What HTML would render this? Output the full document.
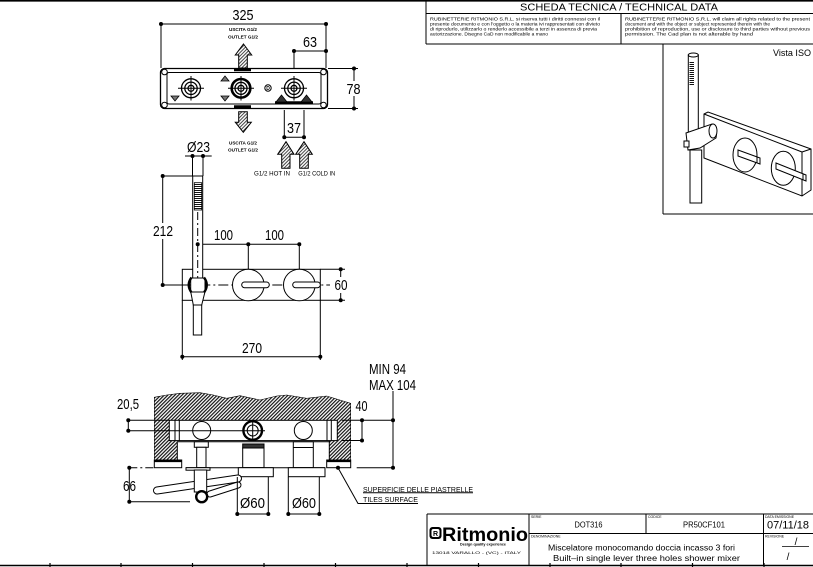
<!DOCTYPE html>
<html><head><meta charset="utf-8"><style>
html,body{margin:0;padding:0;background:#fff;}
svg{display:block;}
text{font-family:"Liberation Sans Narrow","Liberation Sans",sans-serif;fill:#000;}
.s{font-family:"Liberation Sans",sans-serif;}
</style></head><body>
<svg width="813" height="567" viewBox="0 0 813 567" xmlns="http://www.w3.org/2000/svg">
<defs>
<pattern id="hw" width="2.5" height="2.5" patternUnits="userSpaceOnUse" patternTransform="rotate(45)">
<rect width="2.5" height="2.5" fill="#fff"/><rect width="1.2" height="2.5" fill="#111"/></pattern>
<pattern id="ha" width="2.4" height="2.4" patternUnits="userSpaceOnUse" patternTransform="rotate(45)">
<rect width="2.4" height="2.4" fill="#fff"/><rect width="1" height="2.4" fill="#444"/></pattern>
<pattern id="hg" width="2" height="2" patternUnits="userSpaceOnUse">
<rect width="2" height="2" fill="#fff"/><rect width="2" height="1" fill="#111"/></pattern>
</defs>

<!-- ===== FRAME ===== -->
<g stroke="#000" fill="none">
<line x1="0" y1="0.8" x2="813" y2="0.8" stroke-width="1.6"/>
<line x1="426" y1="0" x2="426" y2="44" stroke-width="1"/>
<line x1="426" y1="13.5" x2="813" y2="13.5" stroke-width="1"/>
<line x1="426" y1="44" x2="813" y2="44" stroke-width="1"/>
<line x1="621" y1="13.5" x2="621" y2="44" stroke-width="1"/>
<line x1="663" y1="44" x2="663" y2="214" stroke-width="1"/>
<line x1="663" y1="214" x2="813" y2="214" stroke-width="1"/>
<!-- bottom frame -->
<line x1="0" y1="565.5" x2="813" y2="565.5" stroke-width="1.4"/>
<g stroke-width="1.2">
<line x1="50" y1="563" x2="50" y2="567"/><line x1="121" y1="563" x2="121" y2="567"/>
<line x1="192.5" y1="563" x2="192.5" y2="567"/><line x1="264" y1="563" x2="264" y2="567"/>
<line x1="335.5" y1="563" x2="335.5" y2="567"/><line x1="407" y1="563" x2="407" y2="567"/>
<line x1="478.5" y1="563" x2="478.5" y2="567"/><line x1="550" y1="563" x2="550" y2="567"/>
<line x1="621" y1="563" x2="621" y2="567"/><line x1="692.5" y1="563" x2="692.5" y2="567"/>
<line x1="764" y1="563" x2="764" y2="567"/>
</g>
<!-- bottom title block -->
<line x1="427" y1="514" x2="813" y2="514" stroke-width="1"/>
<line x1="427" y1="514" x2="427" y2="565" stroke-width="1"/>
<line x1="529" y1="514" x2="529" y2="565" stroke-width="1"/>
<line x1="646" y1="514" x2="646" y2="533.5" stroke-width="1"/>
<line x1="763.5" y1="514" x2="763.5" y2="565" stroke-width="1"/>
<line x1="529" y1="533.5" x2="813" y2="533.5" stroke-width="1"/>
<line x1="782" y1="546.5" x2="809" y2="546.5" stroke-width="0.8"/>
</g>

<!-- top title text -->
<text class="s" x="619" y="10.5" font-size="10" text-anchor="middle" textLength="198" lengthAdjust="spacingAndGlyphs">SCHEDA TECNICA / TECHNICAL DATA</text>
<g class="s" font-size="4.7">
<text class="s" x="430" y="20.5" textLength="170" lengthAdjust="spacingAndGlyphs">RUBINETTERIE RITMONIO S.R.L. si riserva tutti i diritti connessi con il</text>
<text class="s" x="430" y="25.5" textLength="170" lengthAdjust="spacingAndGlyphs">presente documento e con l'oggetto o la materia ivi rappresentati con divieto</text>
<text class="s" x="430" y="30.5" textLength="167" lengthAdjust="spacingAndGlyphs">di riprodurlo, utilizzarlo o renderlo accessibile a terzi in assenza di previa</text>
<text class="s" x="430" y="35.5" textLength="118" lengthAdjust="spacingAndGlyphs">autorizzazione. Disegno CaD non modificabile a mano</text>
<text class="s" x="625" y="20.5" textLength="185" lengthAdjust="spacingAndGlyphs">RUBINETTERIE RITMONIO S.R.L. will claim all rights related to the present</text>
<text class="s" x="625" y="25.5" textLength="145" lengthAdjust="spacingAndGlyphs">document and with the object or subject represented therein with the</text>
<text class="s" x="625" y="30.5" textLength="185" lengthAdjust="spacingAndGlyphs">prohibition  of reproduction, use or disclosure to third parties without previous</text>
<text class="s" x="625" y="35.5" textLength="128" lengthAdjust="spacingAndGlyphs">permission.  The Cad plan is not alterable by hand</text>
</g>

<!-- ===== TOP VIEW ===== -->
<g stroke="#000" stroke-width="1" fill="none">
<line x1="161" y1="24" x2="326" y2="24"/>
<line x1="161" y1="24" x2="161" y2="68"/>
<line x1="326" y1="24" x2="326" y2="68"/>
<line x1="294" y1="51" x2="326" y2="51"/>
<line x1="294" y1="51" x2="294" y2="68"/>
<line x1="328" y1="68.5" x2="358" y2="68.5"/>
<line x1="328" y1="108.5" x2="358" y2="108.5"/>
<line x1="354" y1="68.5" x2="354" y2="108.5"/>
<rect x="160.5" y="68.5" width="167" height="40" rx="4" stroke-width="1.3"/>
<rect x="167" y="72.5" width="154" height="31.5" rx="2"/>
<circle cx="164.5" cy="72" r="2.8"/><circle cx="323.5" cy="72" r="2.8"/>
<circle cx="164.5" cy="105" r="2.8"/><circle cx="323.5" cy="105" r="2.8"/>
<!-- valves -->
<g stroke-width="1.3">
<circle cx="191" cy="88.3" r="9.5"/><circle cx="191" cy="88.3" r="6.2"/><circle cx="191" cy="88.3" r="3"/>
<circle cx="241" cy="88.3" r="9.3" stroke-width="2.6"/><circle cx="241" cy="88.3" r="6"/><circle cx="241" cy="88.3" r="3"/>
<circle cx="294" cy="88.3" r="9.5"/><circle cx="294" cy="88.3" r="6.2"/><circle cx="294" cy="88.3" r="3"/>
</g>
<line x1="178" y1="88.3" x2="204" y2="88.3"/><line x1="191" y1="76" x2="191" y2="100.5"/>
<line x1="228" y1="88.3" x2="254" y2="88.3"/><line x1="241" y1="76" x2="241" y2="100.5"/>
<line x1="281" y1="88.3" x2="307" y2="88.3"/><line x1="294" y1="76" x2="294" y2="100.5"/>
<circle cx="268" cy="88" r="3.2"/>
<line x1="234" y1="69.8" x2="251" y2="69.8" stroke-width="3"/>
<line x1="234" y1="106.8" x2="251" y2="106.8" stroke-width="3"/>
<line x1="275" y1="102.5" x2="313" y2="102.5" stroke-width="2.5"/>
</g>
<g stroke="#000" stroke-width="0.8">
<polygon points="171,96 179,96 175,101" fill="#777"/>
<polygon points="221,81 229,81 225,76" fill="#777"/>
<polygon points="221,96 229,96 225,101" fill="#777"/>
<polygon points="276,102 287,102 281.5,95" fill="#333"/>
<polygon points="301,102 312,102 306.5,95" fill="#333"/>
</g>
<text class="s" x="268" y="90" font-size="5" text-anchor="middle" font-weight="bold">D</text>
<!-- arrows -->
<g stroke="#000" stroke-width="1" fill="url(#ha)">
<polygon points="243.5,44 251.7,55 247.3,55 247.3,68 238.7,68 238.7,55 235.3,55"/>
<polygon points="238.7,111.7 247.3,111.7 247.3,122.3 251.3,122.3 243.3,132.3 235.3,122.3 238.7,122.3"/>
<polygon points="286,141.7 294,154.3 290,154.3 290,168.3 281.7,168.3 281.7,154.3 277.7,154.3"/>
<polygon points="304,141.7 312.3,154.3 308.3,154.3 308.3,168.3 299.7,168.3 299.7,154.3 295.7,154.3"/>
</g>
<g stroke="#000" stroke-width="1" fill="none">
<line x1="284.3" y1="110" x2="284.3" y2="137.3"/>
<line x1="304" y1="110" x2="304" y2="137.3"/>
<line x1="284.3" y1="137.3" x2="304" y2="137.3"/>
<!-- O23 -->
<line x1="185" y1="156" x2="211.7" y2="156"/>
<line x1="192.5" y1="156" x2="192.5" y2="176"/>
<line x1="203" y1="156" x2="203" y2="176"/>
</g>
<g fill="#000">
<circle cx="161" cy="24" r="2"/><circle cx="326" cy="24" r="2"/>
<circle cx="294" cy="51" r="2"/><circle cx="326" cy="51" r="2"/>
<circle cx="354" cy="68.5" r="2"/><circle cx="354" cy="108.5" r="2"/>
<circle cx="284.3" cy="137.3" r="2"/><circle cx="304" cy="137.3" r="2"/>
<circle cx="192.5" cy="156" r="2"/><circle cx="203" cy="156" r="2"/>
</g>
<rect x="346" y="81" width="16" height="15" fill="#fff"/>
<g font-size="15" text-anchor="middle">
<text x="243" y="20" textLength="21" lengthAdjust="spacingAndGlyphs">325</text>
<text x="310" y="47" textLength="14" lengthAdjust="spacingAndGlyphs">63</text>
<text x="353.5" y="94" textLength="14" lengthAdjust="spacingAndGlyphs">78</text>
<text x="294" y="133" textLength="14" lengthAdjust="spacingAndGlyphs">37</text>
<text x="198.5" y="152" textLength="23" lengthAdjust="spacingAndGlyphs">Ø23</text>
</g>
<g class="s" font-size="4.8" font-weight="bold" text-anchor="middle">
<text class="s" x="243" y="31" textLength="28" lengthAdjust="spacingAndGlyphs">USCITA G1/2</text>
<text class="s" x="243" y="38.3" textLength="30" lengthAdjust="spacingAndGlyphs">OUTLET G1/2</text>
<text class="s" x="243" y="144.5" textLength="28" lengthAdjust="spacingAndGlyphs">USCITA G1/2</text>
<text class="s" x="243" y="151.7" textLength="30" lengthAdjust="spacingAndGlyphs">OUTLET G1/2</text>
</g>
<g class="s" font-size="6" text-anchor="middle">
<text class="s" x="272" y="175.5" textLength="36" lengthAdjust="spacingAndGlyphs">G1/2 HOT IN</text>
<text class="s" x="316.7" y="175.5" textLength="37" lengthAdjust="spacingAndGlyphs">G1/2 COLD IN</text>
</g>

<!-- ===== FRONT VIEW ===== -->
<g stroke="#000" stroke-width="1" fill="none">
<line x1="162.7" y1="176" x2="192.7" y2="176"/>
<line x1="162.7" y1="176" x2="162.7" y2="285"/>
<line x1="162.7" y1="285" x2="182" y2="285"/>
<line x1="197.7" y1="244.3" x2="299.3" y2="244.3"/>
<line x1="248.3" y1="244.3" x2="248.3" y2="270"/>
<line x1="299.3" y1="244.3" x2="299.3" y2="270"/>
<rect x="182.3" y="269.3" width="138" height="31"/>
<line x1="182.3" y1="285" x2="330" y2="285" stroke-dasharray="10 3 2 3"/>
<circle cx="248.3" cy="285" r="15.8" fill="#fff"/>
<circle cx="299.3" cy="285" r="15.8" fill="#fff"/>
<rect x="241.7" y="282" width="27.6" height="5.7" rx="2.8" fill="#fff"/>
<rect x="292.7" y="282" width="27.6" height="5.7" rx="2.8" fill="#fff"/>
<rect x="192.7" y="176" width="10" height="102" fill="#fff"/>
<polygon points="190.7,291.7 205,291.7 201.7,305 193.3,305" fill="#fff"/>
<rect x="193.3" y="305" width="8.4" height="30" fill="#fff"/>
<line x1="197.7" y1="212" x2="197.7" y2="278" stroke-dasharray="8 3 2 3"/>
<rect x="190.7" y="278" width="14.3" height="14" fill="#fff"/>
<path d="M191.5,277.5 Q186,285 191.5,292.5" stroke-width="2.4"/>
<path d="M204,277.5 Q209.5,285 204,292.5" stroke-width="2.4"/>
<line x1="320.3" y1="269.3" x2="345" y2="269.3"/>
<line x1="320.3" y1="300.3" x2="345" y2="300.3"/>
<line x1="340.7" y1="269.3" x2="340.7" y2="300.3"/>
<line x1="182.3" y1="300.3" x2="182.3" y2="360"/>
<line x1="320.3" y1="300.3" x2="320.3" y2="360"/>
<line x1="182.3" y1="356.7" x2="320.3" y2="356.7"/>
</g>
<rect x="194.3" y="182.7" width="7.4" height="27.3" fill="url(#hg)" stroke="#000" stroke-width="0.8"/>
<g fill="#000">
<circle cx="162.7" cy="176" r="2"/><circle cx="162.7" cy="285" r="2"/>
<circle cx="197.7" cy="244.3" r="2"/><circle cx="248.3" cy="244.3" r="2"/><circle cx="299.3" cy="244.3" r="2"/>
<circle cx="340.7" cy="269.3" r="2"/><circle cx="340.7" cy="300.3" r="2"/>
<circle cx="182.3" cy="356.7" r="2"/><circle cx="320.3" cy="356.7" r="2"/>
</g>
<rect x="152" y="223" width="22" height="16" fill="#fff"/>
<rect x="333" y="277" width="15.5" height="16" fill="#fff"/>
<g font-size="15" text-anchor="middle">
<text x="163" y="236" textLength="20" lengthAdjust="spacingAndGlyphs">212</text>
<text x="223.5" y="240" textLength="19" lengthAdjust="spacingAndGlyphs">100</text>
<text x="274.5" y="240" textLength="19" lengthAdjust="spacingAndGlyphs">100</text>
<text x="341" y="290" textLength="13" lengthAdjust="spacingAndGlyphs">60</text>
<text x="252" y="353" textLength="20" lengthAdjust="spacingAndGlyphs">270</text>
</g>

<!-- ===== SECTION VIEW ===== -->
<path fill="url(#hw)" fill-rule="evenodd" stroke="none" d="M154.3,397.3 L166.7,395 L180,393.3 L200,392.7 L213.3,395 L226.7,398.3 L240,395.7 L260,400 L276.7,396 L286.7,395 L306.7,398.3 L326.7,396 L350.7,403.3 L350.7,460 L154.3,460 Z M169.3,420 L337.3,420 L337.3,440 L329.3,440 L329.3,460 L177.3,460 L177.3,440 L169.3,440 Z"/>
<g stroke="#000" stroke-width="1" fill="none">
<polyline points="154.3,460 154.3,397.3 166.7,395 180,393.3 200,392.7 213.3,395 226.7,398.3 240,395.7 260,400 276.7,396 286.7,395 306.7,398.3 326.7,396 350.7,403.3 350.7,460" stroke-width="0.6"/>
<polyline points="177.3,460 177.3,440"/>
<polyline points="329.3,460 329.3,440"/>
<rect x="154.3" y="460" width="27.4" height="7.7" fill="#fff"/>
<rect x="326.7" y="460" width="24" height="7.7" fill="#fff"/>
<line x1="154.3" y1="461" x2="181.7" y2="461" stroke-width="2.2"/>
<line x1="326.7" y1="461" x2="350.7" y2="461" stroke-width="2.2"/>
<rect x="169.3" y="420.3" width="168" height="20.3" fill="#fff"/>
<line x1="175" y1="420.3" x2="175" y2="440.6"/><line x1="179.3" y1="420.3" x2="179.3" y2="440.6"/>
<line x1="327" y1="420.3" x2="327" y2="440.6"/><line x1="331.3" y1="420.3" x2="331.3" y2="440.6"/>
<line x1="178" y1="441.8" x2="330" y2="441.8"/>
<circle cx="201.7" cy="430.5" r="9" fill="#fff"/>
<circle cx="252.7" cy="430.5" r="9.3" fill="#fff" stroke-width="2.4"/>
<circle cx="252.7" cy="430.5" r="5.5"/>
<circle cx="303.3" cy="430.5" r="9" fill="#fff"/>
<line x1="128.3" y1="430.7" x2="265" y2="430.7"/>
<line x1="252.7" y1="422" x2="252.7" y2="439"/>
<line x1="128.3" y1="420.3" x2="169.3" y2="420.3"/>
<rect x="194.3" y="441.8" width="14" height="5.5" fill="#fff"/>
<rect x="196.7" y="447.3" width="9.3" height="20.4" fill="#fff"/>
<rect x="242.7" y="444" width="21.3" height="4" fill="#333"/>
<rect x="242.7" y="448" width="21.3" height="19.7" fill="#fff"/>
<rect x="293.3" y="441.8" width="20" height="25.9" fill="#fff"/>
<line x1="293.3" y1="447.5" x2="313.3" y2="447.5"/>
<line x1="186" y1="467.7" x2="325" y2="467.7"/>
<rect x="238.3" y="467.7" width="35" height="9" fill="#fff"/>
<rect x="288.3" y="467.7" width="36.7" height="9" fill="#fff"/>
<rect x="186" y="467.7" width="24" height="2.5" fill="#fff"/>
<path d="M157,490.5 L238,478.5" stroke-width="8" stroke-linecap="round"/>
<path d="M157,490.5 L238,478.5" stroke="#fff" stroke-width="6" stroke-linecap="round"/>
<path d="M210,494 L238,485" stroke-width="7" stroke-linecap="round"/>
<path d="M210,494 L238,485" stroke="#fff" stroke-width="5" stroke-linecap="round"/>
<rect x="194.3" y="470" width="12.4" height="22" fill="#fff"/>
<circle cx="201.7" cy="496.7" r="5.5" fill="#fff" stroke-width="2.4"/>
<line x1="128.3" y1="420.3" x2="128.3" y2="430.7"/>
<line x1="129.3" y1="467.7" x2="155" y2="467.7" stroke-dasharray="8 3 2 3"/>
<line x1="129.3" y1="467.7" x2="129.3" y2="501.7"/>
<line x1="129.3" y1="501.7" x2="190" y2="501.7"/>
<line x1="237.3" y1="477" x2="237.3" y2="514"/><line x1="268.3" y1="477" x2="268.3" y2="514"/>
<line x1="237.3" y1="514" x2="268.3" y2="514"/>
<line x1="288.3" y1="477" x2="288.3" y2="514"/><line x1="319.3" y1="477" x2="319.3" y2="514"/>
<line x1="288.3" y1="514" x2="319.3" y2="514"/>
<line x1="341.7" y1="420.3" x2="393" y2="420.3"/>
<line x1="341.7" y1="440.5" x2="362" y2="440.5"/>
<line x1="356.7" y1="467.7" x2="393" y2="467.7"/>
<line x1="362" y1="420.3" x2="362" y2="440.5"/>
<line x1="393" y1="391" x2="393" y2="467.7"/>
<polyline points="338,467.7 358,503.5 418,503.5"/>
<line x1="363" y1="492.8" x2="473" y2="492.8"/>
</g>
<g fill="#000">
<circle cx="128.3" cy="420.3" r="2"/><circle cx="128.3" cy="430.7" r="2"/>
<circle cx="129.3" cy="467.7" r="2"/><circle cx="129.3" cy="501.7" r="2"/>
<circle cx="237.3" cy="514" r="2"/><circle cx="268.3" cy="514" r="2"/>
<circle cx="288.3" cy="514" r="2"/><circle cx="319.3" cy="514" r="2"/>
<circle cx="362" cy="420.3" r="2"/><circle cx="362" cy="440.5" r="2"/>
<circle cx="393" cy="420.3" r="2"/><circle cx="393" cy="467.7" r="2"/>
<circle cx="338" cy="467.7" r="2"/>
</g>
<g font-size="15">
<text x="369" y="374" textLength="37" lengthAdjust="spacingAndGlyphs">MIN 94</text>
<text x="369" y="390" textLength="47" lengthAdjust="spacingAndGlyphs">MAX 104</text>
<text x="361.5" y="411" text-anchor="middle" textLength="12" lengthAdjust="spacingAndGlyphs">40</text>
<text x="128" y="409" text-anchor="middle" textLength="22" lengthAdjust="spacingAndGlyphs">20,5</text>
<text x="129.5" y="491" text-anchor="middle" textLength="13" lengthAdjust="spacingAndGlyphs">66</text>
<text x="252.5" y="508" text-anchor="middle" textLength="25" lengthAdjust="spacingAndGlyphs">Ø60</text>
<text x="304" y="508" text-anchor="middle" textLength="24" lengthAdjust="spacingAndGlyphs">Ø60</text>
</g>
<g font-size="7.5">
<text x="363" y="491.8" textLength="110" lengthAdjust="spacingAndGlyphs">SUPERFICIE DELLE PIASTRELLE</text>
<text x="363" y="501.8" textLength="55" lengthAdjust="spacingAndGlyphs">TILES SURFACE</text>
</g>

<!-- ===== ISO VIEW ===== -->
<text class="s" x="773" y="56" font-size="9" textLength="38" lengthAdjust="spacingAndGlyphs">Vista ISO</text>
<g stroke="#000" stroke-width="1" fill="none">
<polygon points="704,114 708,112 811,149 811,190 802,196 704,158" fill="#fff"/>
<polyline points="704,114 802,152 802,196"/>
<line x1="802" y1="152" x2="811" y2="149"/>
<ellipse cx="745" cy="155" rx="12" ry="17" fill="#fff"/>
<path d="M738,150 L760,158 L760,164 L738,156 Z" fill="#fff"/>
<line x1="757" y1="157" x2="757" y2="163"/>
<ellipse cx="783.3" cy="168.3" rx="12" ry="17" fill="#fff"/>
<path d="M776,163 L806,175 L806,181 L776,169 Z" fill="#fff"/>
<line x1="803" y1="174" x2="803" y2="180"/>
<rect x="688.3" y="55" width="10" height="84" fill="#fff"/>
<ellipse cx="693.3" cy="55" rx="5" ry="2" fill="#fff"/>
<rect x="690" y="150" width="11.7" height="53" fill="#fff"/>
<path d="M686,133 L712,124 Q718,128 716,138 L700,148 L688,150 Z" fill="#fff"/>
<ellipse cx="713" cy="131" rx="4" ry="7" fill="#fff"/>
<rect x="684" y="141" width="5" height="6" fill="#fff"/>
<line x1="688" y1="150" x2="702" y2="150"/>
</g>
<rect x="689.5" y="62" width="4.5" height="23" fill="url(#hg)"/>

<!-- ===== TITLE BLOCK BOTTOM ===== -->
<g class="s" font-size="3.5">
<text class="s" x="531" y="518">SERIE</text>
<text class="s" x="648" y="518">CODICE</text>
<text class="s" x="765" y="518">DATA EMISSIONE</text>
<text class="s" x="531" y="537.5">DENOMINAZIONE</text>
<text class="s" x="765" y="537.5">REVISIONE</text>
</g>
<g class="s" font-size="8">
<text class="s" x="588.5" y="527.5" text-anchor="middle" textLength="28" lengthAdjust="spacingAndGlyphs">DOT316</text>
<text class="s" x="704" y="527.5" text-anchor="middle" textLength="42" lengthAdjust="spacingAndGlyphs">PR50CF101</text>
<text class="s" x="641.5" y="550.5" text-anchor="middle" textLength="187" lengthAdjust="spacingAndGlyphs">Miscelatore monocomando doccia incasso 3 fori</text>
<text class="s" x="646.5" y="561" text-anchor="middle" textLength="187" lengthAdjust="spacingAndGlyphs">Built–in single lever three holes shower mixer</text>
</g>
<text class="s" x="788" y="528.5" font-size="11" text-anchor="middle" textLength="42" lengthAdjust="spacingAndGlyphs">07/11/18</text>
<text class="s" x="796" y="545" font-size="10" text-anchor="middle">/</text>
<text class="s" x="788" y="560" font-size="10" text-anchor="middle">/</text>
<g>
<rect x="429.5" y="527" width="12" height="12" rx="3" fill="#000"/>
<rect x="431.5" y="529" width="8" height="8" rx="2" fill="#fff"/>
<text class="s" x="435.5" y="536" font-size="7" font-weight="bold" text-anchor="middle">R</text>
<text class="s" x="442" y="541" font-size="19" font-weight="bold" textLength="86" lengthAdjust="spacingAndGlyphs">Ritmonio</text>
<text class="s" x="460" y="545.5" font-size="3.5" font-weight="bold" textLength="46" lengthAdjust="spacingAndGlyphs">Design quality experience</text>
<text class="s" x="476.5" y="554" font-size="4" text-anchor="middle" textLength="89" lengthAdjust="spacingAndGlyphs">13018 VARALLO - (VC) - ITALY</text>
</g>
</svg>
</body></html>
